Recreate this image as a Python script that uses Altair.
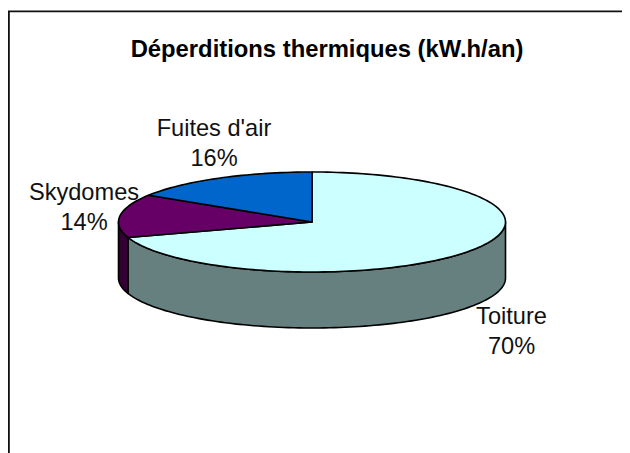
import math
import altair as alt

# --- data ---
NAMES = ["Toiture", "Skydomes", "Fuites d'air"]
SHARES = [70, 14, 16]
TOP_COLORS = ["#CCFFFF", "#660066", "#0066CC"]
SIDE_COLORS = ["#66807F", "#330033", "#003366"]
LABEL_POS = [(511.5, 323.5, 353.5), (84, 200, 230), (214, 136, 166)]
TITLE = "Déperditions thermiques (kW.h/an)"

# --- layout of the drawing, in page pixels ---
CX, CY, RX, RY, DEPTH = 312, 222, 193.5, 50, 56
FONT = "Liberation Sans"
W, H = 614, 445


def pt(deg, dy=0):
    a = math.radians(deg)
    return [CX + RX * math.sin(a), CY - RY * math.cos(a) + dy]


def arc(a0, a1, dy=0):
    n = max(2, int(abs(a1 - a0) / 1.5))
    return [pt(a0 + (a1 - a0) * i / n, dy) for i in range(n + 1)]


def feature(ring, fill, kind="Polygon"):
    coords = [ring + [ring[0]]] if kind == "Polygon" else ring
    return {"type": "Feature", "properties": {"fill": fill},
            "geometry": {"type": kind, "coordinates": coords}}


# turn the shares into angles, clockwise from 12 o'clock
edges = [0]
for s in SHARES:
    edges.append(edges[-1] + s / sum(SHARES) * 360)

tops, sides = [], []
for i, fill in enumerate(TOP_COLORS):
    a0, a1 = edges[i], edges[i + 1]
    tops.append(feature([[CX, CY]] + arc(a0, a1), fill))
    b0, b1 = max(a0, 90), min(a1, 270)  # only the near half of the rim shows
    if b0 < b1:
        sides.append(feature(arc(b0, b1) + arc(b1, b0, DEPTH), SIDE_COLORS[i]))

projection = alt.Projection(type="identity", scale=1, translate=[-8, -8])


def shapes(features, width=1.6):
    return (
        alt.Chart(alt.Data(values=features, format=alt.DataFormat(type="json")))
        .mark_geoshape(stroke="black", strokeWidth=width, strokeJoin="round")
        .encode(fill=alt.Fill("properties.fill:N", scale=None))
        .project(**projection.to_dict())
    )


frame = (
    alt.Chart(alt.Data(values=[{
        "type": "Feature", "properties": {},
        "geometry": {"type": "LineString",
                     "coordinates": [[8.9, 470], [8.9, 11.3], [650, 11.3]]}}],
        format=alt.DataFormat(type="json")))
    .mark_geoshape(stroke="#111111", strokeWidth=1.8, fill=None, filled=False)
    .project(**projection.to_dict())
)

label_rows = []
for name, share, (x, y1, y2) in zip(NAMES, SHARES, LABEL_POS):
    label_rows.append({"t": name, "x": x, "y": y1})
    label_rows.append({"t": f"{share}%", "x": x, "y": y2})

labels = (
    alt.Chart(alt.Data(values=label_rows))
    .mark_text(font=FONT, fontSize=23.6, color="#111111", align="center", baseline="alphabetic")
    .encode(longitude="x:Q", latitude="y:Q", text="t:N")
    .project(**projection.to_dict())
)

title = (
    alt.Chart(alt.Data(values=[{"t": TITLE, "x": 327, "y": 57}]))
    .mark_text(font=FONT, fontSize=23.8, fontWeight="bold", color="black", align="center", baseline="alphabetic")
    .encode(longitude="x:Q", latitude="y:Q", text="t:N")
    .project(**projection.to_dict())
)

chart = (
    alt.layer(frame, shapes(sides), shapes(tops), labels, title)
    .properties(width=W, height=H, padding=0, autosize=alt.AutoSizeParams(type="none"), background="white")
    .configure_view(stroke=None)
)

chart.save("out.html", embed_options={"renderer": "svg", "actions": False})
